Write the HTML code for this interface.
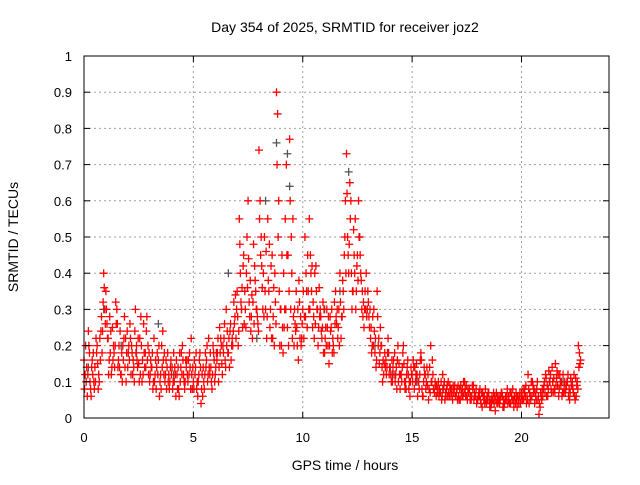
<!DOCTYPE html>
<html><head><meta charset="utf-8"><style>
body{margin:0;background:#fff}
svg text{font-family:"Liberation Sans",sans-serif;fill:#000}
</style></head><body>
<svg id="chart" width="640" height="480">
<rect width="640" height="480" fill="#fff"/>
<g id="grid"></g>
<g id="marks"></g>
<rect x="84" y="56" width="525" height="362" fill="none" stroke="#000" stroke-width="1"/>
<g id="ticks"></g>
<text x="345" y="32" font-size="14" text-anchor="middle">Day 354 of 2025, SRMTID for receiver joz2</text>
<text x="345" y="470" font-size="14" text-anchor="middle">GPS time / hours</text>
<text x="18" y="237" font-size="14" text-anchor="middle" transform="rotate(-90 18 237)">SRMTID / TECUs</text>
</svg>
<script>
const xTicks=[0,5,10,15,20];
const yTicks=[0,0.1,0.2,0.3,0.4,0.5,0.6,0.7,0.8,0.9,1];
const yTickLabels=["0","0.1","0.2","0.3","0.4","0.5","0.6","0.7","0.8","0.9","1"];
const redA=[.16,.10,.24,.08,.12,.14,.20,.10,.28,.40,
.35,.22,.18,.25,.14,.30,.20,.12,.16,.22,
.14,.26,.18,.10,.20,.15,.28,.12,.18,.16,
.10,.14,.22,.08,.16,.12,.24,.10,.14,.08,
.12,.18,.06,.14,.10,.20,.08,.16,.12,.22,
.10,.14,.06,.18,.12,.08,.16,.22,.14,.20,
.12,.18,.25,.15,.22,.30,.18,.26,.20,.28,
.35,.55,.30,.45,.25,.60,.38,.22,.42,.30,
.74,.50,.40,.30,.55,.25,.45,.20,.90,.60,
.30,.18,.55,.25,.77,.40,.20,.35,.16,.28,
.30,.50,.25,.55,.35,.28,.42,.20,.30,.25,
.18,.30,.15,.25,.20,.35,.22,.40,.28,.45,
.73,.40,.60,.35,.55,.45,.50,.30,.25,.40,
.32,.22,.28,.18,.35,.15,.20,.12,.16,.22,
.14,.10,.18,.08,.15,.12,.20,.10,.16,.06,
.12,.08,.15,.10,.18,.06,.12,.09,.14,.10,
.08,.06,.10,.07,.12,.05,.09,.06,.08,.07,
.06,.09,.05,.08,.10,.06,.07,.05,.09,.06,
.05,.08,.03,.06,.04,.07,.03,.05,.02,.06,
.04,.07,.03,.05,.06,.04,.08,.05,.03,.06,
.07,.05,.09,.12,.06,.10,.04,.08,.01,.06,
.08,.12,.06,.10,.14,.08,.11,.06,.09,.12,
.07,.10,.05,.09,.12,.06,.20,.16];
const redB=[.12,.06,.18,.14,.10,.22,.08,.16,.24,.30,
.26,.16,.12,.20,.32,.14,.24,.10,.28,.18,
.20,.12,.16,.30,.14,.22,.10,.18,.24,.12,
.16,.08,.12,.18,.06,.20,.12,.16,.10,.14,
.08,.14,.12,.06,.18,.12,.16,.10,.14,.08,
.16,.08,.12,.04,.14,.18,.10,.12,.08,.16,
.18,.10,.22,.20,.16,.24,.14,.20,.32,.22,
.20,.40,.25,.35,.50,.32,.28,.48,.35,.26,
.60,.36,.50,.22,.35,.42,.28,.32,.84,.20,
.45,.25,.70,.20,.30,.55,.26,.20,.32,.22,
.22,.40,.35,.45,.25,.40,.30,.36,.24,.18,
.25,.20,.28,.18,.32,.26,.30,.22,.35,.60,
.50,.65,.30,.45,.35,.60,.40,.28,.35,.30,
.25,.18,.30,.14,.20,.25,.10,.18,.14,.12,
.10,.16,.12,.20,.08,.14,.10,.12,.08,.14,
.16,.10,.06,.12,.08,.14,.10,.05,.20,.12,
.10,.07,.08,.05,.09,.06,.10,.08,.05,.09,
.08,.05,.07,.10,.06,.08,.05,.09,.07,.04,
.07,.04,.06,.08,.05,.03,.06,.04,.07,.05,
.06,.03,.05,.08,.04,.06,.03,.07,.05,.04,
.05,.08,.06,.04,.10,.07,.06,.05,.03,.08,
.10,.06,.13,.08,.07,.15,.09,.12,.06,.08,
.09,.06,.11,.08,.05,.10,.18];
const redC=[.08,.14,.20,.06,.18,.10,.15,.22,.18,.36,
.30,.12,.24,.16,.20,.26,.14,.18,.22,.10,
.18,.22,.12,.24,.16,.10,.20,.26,.14,.20,
.12,.18,.10,.14,.20,.08,.16,.12,.18,.10,
.14,.10,.16,.08,.14,.16,.10,.12,.18,.12,
.08,.18,.10,.14,.06,.12,.20,.14,.10,.18,
.14,.22,.18,.12,.26,.20,.22,.16,.24,.34,
.28,.48,.36,.26,.40,.44,.24,.32,.38,.28,
.55,.42,.28,.46,.38,.30,.22,.40,.70,.35,
.20,.40,.30,.45,.60,.22,.30,.25,.38,.20,
.35,.28,.45,.30,.42,.22,.35,.25,.28,.32,
.22,.25,.20,.30,.18,.28,.25,.32,.38,.50,
.62,.48,.40,.52,.30,.38,.45,.35,.30,.28,
.28,.25,.20,.22,.28,.18,.14,.15,.12,.18,
.12,.14,.10,.16,.12,.10,.15,.08,.12,.10,
.10,.14,.12,.08,.16,.10,.08,.12,.07,.16,
.07,.09,.06,.10,.08,.07,.06,.09,.07,.08,
.07,.06,.09,.06,.08,.05,.08,.06,.05,.08,
.06,.05,.07,.04,.06,.05,.04,.07,.05,.04,
.05,.06,.04,.06,.05,.07,.05,.04,.06,.07,
.06,.07,.04,.08,.05,.09,.07,.10,.04,.05,
.09,.11,.08,.12,.10,.07,.13,.08,.10,.07,
.08,.12,.07,.10,.06,.09,.14];
const redD=[.20,.12,.10,.16,.08,.18,.12,.24,.32,.26,
.22,.28,.14,.18,.26,.16,.12,.20,.14,.24,
.16,.20,.14,.18,.22,.12,.16,.14,.28,.18,
.14,.10,.16,.12,.10,.14,.18,.08,.12,.16,
.10,.12,.08,.18,.12,.10,.14,.16,.08,.14,
.12,.10,.16,.08,.10,.14,.12,.18,.12,.10,
.16,.14,.20,.18,.14,.18,.24,.22,.26,.30,
.24,.32,.42,.30,.36,.28,.34,.26,.30,.24,
.45,.30,.35,.28,.48,.22,.36,.26,.50,.30,
.25,.30,.45,.35,.50,.28,.24,.30,.22,.26,
.28,.35,.30,.40,.32,.26,.30,.28,.22,.30,
.20,.28,.24,.22,.26,.30,.20,.28,.30,.40,
.45,.55,.35,.40,.42,.50,.38,.32,.30,.35,
.30,.20,.24,.16,.22,.20,.16,.14,.18,.14,
.16,.12,.14,.10,.12,.18,.08,.14,.10,.12,
.14,.12,.10,.16,.06,.12,.14,.08,.10,.08,
.09,.08,.07,.06,.10,.08,.07,.06,.09,.06,
.05,.08,.06,.07,.09,.07,.06,.08,.06,.05,
.06,.07,.05,.05,.07,.04,.05,.06,.04,.06,
.07,.05,.06,.04,.07,.05,.06,.05,.04,.05,
.08,.06,.05,.07,.06,.08,.05,.06,.07,.06,
.07,.09,.10,.07,.11,.09,.12,.10,.07,.10,
.10,.08,.09,.07,.11,.08,.15];
const grayT=[0.2,0.9,1.7,2.4,3.4,4.1,5.2,6.6,7.2,7.9,8.3,8.8,9.3,9.4,10.2,11.0,11.7,12.1,12.6,13.3,14.1,15.2,16.4,17.5,18.6,19.8,20.7,21.9];
const grayV=[.14,.30,.20,.18,.26,.12,.10,.40,.30,.22,.60,.76,.73,.64,.25,.30,.35,.68,.50,.20,.12,.10,.08,.06,.05,.06,.08,.10];
const X=v=>84+v*525/24, Y=v=>418-v*362;
const NS="http://www.w3.org/2000/svg";
const grid=document.getElementById('grid'),marks=document.getElementById('marks'),ticks=document.getElementById('ticks');
function mk(tag,attrs,parent){const e=document.createElementNS(NS,tag);for(const k in attrs)e.setAttribute(k,attrs[k]);parent.appendChild(e);return e;}
yTicks.forEach((v,i)=>{
 if(i>0&&i<yTicks.length-1){const g=mk('line',{x1:84,x2:609,y1:Y(v),y2:Y(v),stroke:'#a0a0a0','stroke-dasharray':'2,3'},grid);
 
 }
 const t=mk('text',{x:72,y:Y(v)+5,'font-size':13,'text-anchor':'end'},ticks);t.textContent=yTickLabels[i];
 
 
 mk('line',{x1:84,x2:90,y1:Y(v),y2:Y(v),stroke:'#000'},ticks);
 mk('line',{x1:603,x2:609,y1:Y(v),y2:Y(v),stroke:'#000'},ticks);
});
xTicks.forEach(v=>{
 if(v>0){const g=mk('line',{x1:X(v),x2:X(v),y1:56,y2:418,stroke:'#a0a0a0','stroke-dasharray':'2,3'},grid);
 
 }
 const t=mk('text',{x:X(v),y:442,'font-size':13,'text-anchor':'middle'},ticks);t.textContent=String(v);
 
 
 mk('line',{x1:X(v),x2:X(v),y1:418,y2:412,stroke:'#000'},ticks);
 mk('line',{x1:X(v),x2:X(v),y1:56,y2:62,stroke:'#000'},ticks);
});
function plus(x,y,c,name){const p=mk('path',{d:`M${x-4},${y}h8M${x},${y-4}v8`,stroke:c,'stroke-width':1.3,fill:'none'},marks);
 
 }
grayT.forEach((t,i)=>plus(X(t),Y(grayV[i]),'#555','gray-point'));
redA.forEach((v,i)=>plus(X(i*0.1),Y(v),'#f00','red-point'));
redB.forEach((v,i)=>plus(X(i*0.1+0.05),Y(v),'#f00','red-point'));
redC.forEach((v,i)=>plus(X(i*0.1+0.025),Y(v),'#f00','red-point'));
redD.forEach((v,i)=>plus(X(i*0.1+0.075),Y(v),'#f00','red-point'));
</script>
</body></html>
